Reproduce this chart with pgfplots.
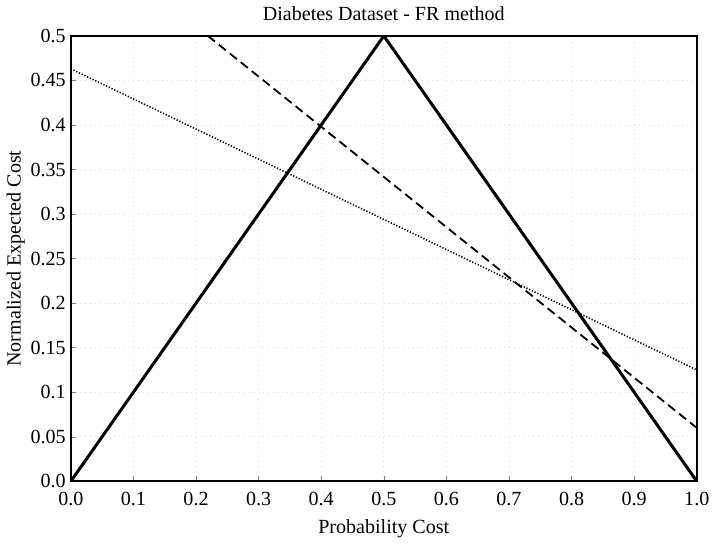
\documentclass[border=0pt]{standalone}
\usepackage{pgfplots}
\pgfplotsset{compat=1.18}
\usepackage{fontspec}
\setmainfont{Liberation Serif}

\begin{document}
\begin{tikzpicture}
\begin{axis}[scale only axis,width=312pt,height=222pt,
 xmin=0,xmax=1,ymin=0,ymax=0.5,
 xtick={0,0.1,...,1.0},xticklabels={0.0,0.1,0.2,0.3,0.4,0.5,0.6,0.7,0.8,0.9,1.0},
 ytick={0,0.05,0.1,0.15,0.2,0.25,0.3,0.35,0.4,0.45,0.5},
 yticklabels={0.0,0.05,0.1,0.15,0.2,0.25,0.3,0.35,0.4,0.45,0.5},
 tick align=inside,xtick pos=left,ytick pos=left,major tick length=2.5pt,
 axis line style={line width=0.8pt},
 xmajorgrids,ymajorgrids,grid style={black!12,dotted,line width=0.3pt},
 title={Diabetes Dataset - FR method},title style={font=\normalsize,yshift=-2pt},
 xlabel={Probability Cost},ylabel={Normalized Expected Cost},
 label style={font=\normalsize},tick label style={font=\normalsize},
 yticklabel style={xshift=1pt},xticklabel style={yshift=-2pt},
 xlabel style={yshift=0pt},ylabel style={yshift=-4pt}]
\addplot[black,line width=1.5pt,mark=none] coordinates {(0,0) (0.5,0.5) (1,0)};
\addplot[black,line width=0.9pt,dash pattern=on 4.5pt off 2.5pt,mark=none] coordinates {(0.219,0.5) (1,0.060)};
\addplot[black,line width=0.8pt,dash pattern=on 0.6pt off 0.9pt,mark=none] coordinates {(0,0.463) (1,0.125)};
\end{axis}
\end{tikzpicture}
\end{document}
